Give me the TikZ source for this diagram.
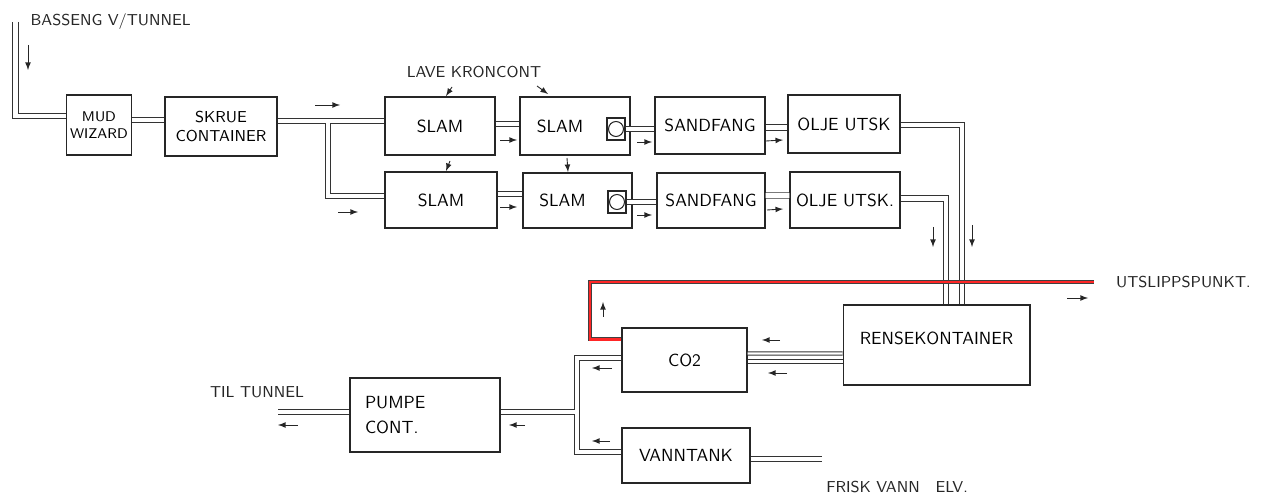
\documentclass[tikz,border=0pt]{standalone}
\usepackage{tikz}
\usetikzlibrary{positioning}
\usetikzlibrary{calc}
\tikzset{
	unit/.style={draw=black!85, rectangle, line width=0.6pt, inner sep=2pt, minimum width=2.2cm, minimum height=1.14cm, font=\sffamily, align=center},
	valve/.style={draw=black!85, rectangle, line width=0.6pt, inner sep=0pt, minimum width=0.36cm, minimum height=0.44cm,
		path picture={\draw[line width=0.6pt] (path picture bounding box.center) circle (0.15cm);}},
	pipe/.style={draw=black!80, line width=0.5pt, double=white, double distance=2.6pt},
	thinpipe/.style={pipe, double distance=1.3pt},
	redpipe/.style={draw=black!75, line width=0.4pt, double=red!85, double distance=1.5pt},
	% handwritten labels beside the lines
	lbl/.style={font=\sffamily\small, inner sep=1pt, text=black!85}
}
\begin{document}
\begin{tikzpicture}[x=0.02cm, y=-0.02cm]
	\useasboundingbox (0,0) rectangle (1270,499);
	
	\node (mud) [unit, minimum width=1.16cm, minimum height=1.2cm, font=\sffamily\footnotesize] at (99,125) {MUD\\WIZARD};
	\node (skrue) [unit, minimum width=2.24cm, minimum height=1.18cm, font=\sffamily\small] at (221,126.5) {SKRUE\\CONTAINER};
	
	\node (slamA) [unit, minimum height=1.16cm] at (440,126) {SLAM};
	\node (slamB) [unit, minimum height=1.16cm] at (575,126) {SLAM\hspace{0.6cm}};
	\node (sepB) [valve] at (616,129) {};
	\node (sandA) [unit] at (710,125.5) {SANDFANG};
	\node (oljeA) [unit, minimum width=2.24cm, minimum height=1.16cm] at (844,124) {OLJE UTSK};
	
	\node (slamC) [unit, minimum width=2.24cm, minimum height=1.12cm] at (441,200) {SLAM};
	\node (slamD) [unit, minimum width=2.18cm, minimum height=1.1cm] at (577.5,200.5) {SLAM\hspace{0.6cm}};
	\node (sepD) [valve] at (617,202) {};
	\node (sandB) [unit, minimum width=2.16cm, minimum height=1.1cm] at (711,200.5) {SANDFANG};
	\node (oljeB) [unit, minimum height=1.12cm] at (845,200) {OLJE UTSK.};
	
	\node (rense) [unit, minimum width=3.74cm, minimum height=1.6cm,
		label={[font=\sffamily, anchor=north, yshift=-0.42cm]north:RENSEKONTAINER}] at (936.5,345) {};
	\node (co2) [unit, minimum width=2.5cm, minimum height=1.28cm] at (684.5,360) {CO2};
	\node (pumpe) [unit, minimum width=3cm, minimum height=1.48cm, text width=2.4cm, align=left] at (425,415) {PUMPE\\[2pt]CONT.};
	\node (vann) [unit, minimum width=2.56cm, minimum height=1.1cm] at (686,455.5) {VANNTANK};
	
	\coordinate (inlet) at (15.5,22);
	\coordinate (split) at (328,121);
	\coordinate (jt) at (577,358);
	\coordinate (jm) at (577,412);
	\coordinate (jb) at (577,452);
	\coordinate (tunnel) at (278,412);
	\coordinate (elv) at (822,459);
	\coordinate (rk) at (590,282);
	\coordinate (utslipp) at (1094,282);
	
	\node (basseng) [lbl, right=0.26cm of inlet] {BASSENG V/TUNNEL};
	\node (lave) [lbl] at (474,72) {LAVE KRONCONT};
	\node (utlbl) [lbl, right=0.4cm of utslipp] {UTSLIPPSPUNKT.};
	\node (tiltunnel) [lbl] at (257,392) {TIL TUNNEL};
	\node (frisk) [lbl] at (897,487) {FRISK VANN\quad ELV.};
	
	% pipes
	\draw[pipe] (inlet) |- ($(mud.west)+(0,-9)$);
	\draw[pipe] ($(mud.east)+(0,-5)$) -- ($(skrue.west)+(0,-6.5)$);
	\draw[pipe] ($(skrue.east)+(0,-5.5)$) -- (slamA.west |- split) (split) |- ($(slamC.west)+(0,-4)$);
	\draw[pipe] ($(slamA.east)+(0,-2)$) -- ($(slamB.west)+(0,-2)$);
	\draw[pipe] (sepB.east) -- (sandA.west |- sepB.east);
	\draw[pipe] ($(sandA.east)+(0,2)$) -- ($(oljeA.west)+(0,3.5)$);
	\draw[pipe] ($(slamC.east)+(0,-6)$) -- ($(slamD.west)+(0,-6.5)$);
	\draw[pipe] (sepD.east) -- (sandB.west |- sepD.east);
	\draw[pipe] ($(sandB.east)+(0,-5)$) -- ($(oljeB.west)+(0,-4.5)$);
	\draw[pipe] ($(oljeA.east)+(0,1)$) -| ($(rense.north)+(25.5,0)$);
	\draw[pipe] ($(oljeB.east)+(0,-1.5)$) -| ($(rense.north)+(9.5,0)$);
	\draw[thinpipe] ($(rense.west)+(0,8.5)$) -- ($(co2.east)+(0,-6.5)$);
	\draw[thinpipe] ($(rense.west)+(0,16.5)$) -- ($(co2.east)+(0,1.5)$);
	\draw[pipe] ($(co2.west)+(0,-2)$) -- (jt) -- (jb) -- (vann.west |- jb) (jm) -- (pumpe.east |- jm);
	\draw[pipe] (pumpe.west |- tunnel) -- (tunnel);
	\draw[pipe] (vann.east |- elv) -- (elv);
	\draw[redpipe] ($(co2.north west)+(0,12)$) -| (rk) -- (utslipp);
	
	\begin{scope}[black!85, line width=0.5pt, ->, >=latex]
		\draw (28,45) -- (28,70);
		\draw (315,105) -- (340,105);
		\draw (338,212) -- (358,212);
		\draw (452,87) -- (446,96);
		\draw (537,86) -- (548,94);
		\draw (450,161) -- (446,171);
		\draw (567,158) -- (568,172);
		\draw (500,140) -- (517,140);
		\draw (500,207) -- (517,207);
		\draw (637,142) -- (652,142);
		\draw (637,215) -- (652,215);
		\draw (766,141) -- (783,140);
		\draw (767,210) -- (783,209);
		\draw (933,227) -- (933,247);
		\draw (972,225) -- (972,247);
		\draw (1067,298) -- (1088,298);
		\draw (603,317) -- (603,302);
		\draw (780,340) -- (762,340);
		\draw (787,373) -- (768,373);
		\draw (612,368) -- (592,368);
		\draw (610,441) -- (592,441);
		\draw (525,425) -- (509,425);
		\draw (298,425) -- (278,425);
	\end{scope}
\end{tikzpicture}
\end{document}
